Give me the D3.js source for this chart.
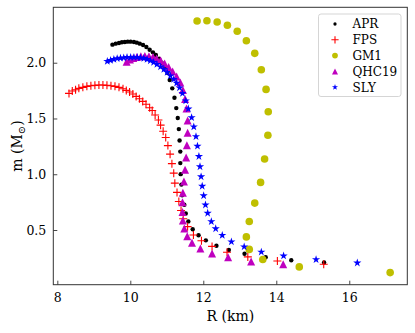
<!DOCTYPE html>
<html>
<head>
<meta charset="utf-8">
<script src="https://cdn.jsdelivr.net/npm/d3@7"></script>
<style>
  body { margin: 0; background: #fff; }
  text { font-family: "DejaVu Serif", serif; fill: #000; }
</style>
</head>
<body>
<div id="wrapper"></div>
<script>
// mass-radius curves (R in km, m in solar masses)
const aprR = [9.51, 9.60, 9.69, 9.77, 9.85, 9.93, 10.01, 10.10, 10.18, 10.26, 10.35, 10.44, 10.53, 10.62, 10.70, 10.79, 10.86, 10.94, 11.02, 11.08, 11.15, 11.21, 11.26, 11.30, 11.33, 11.35, 11.37, 11.37, 11.38, 11.40, 11.42, 11.48, 11.52, 11.59, 11.71, 11.87, 12.07, 12.36, 12.70, 13.13, 13.71, 14.41, 15.31]
const aprM = [2.162, 2.171, 2.177, 2.183, 2.186, 2.189, 2.189, 2.186, 2.180, 2.171, 2.159, 2.141, 2.117, 2.093, 2.069, 2.036, 2.000, 1.959, 1.910, 1.845, 1.770, 1.686, 1.593, 1.504, 1.405, 1.302, 1.203, 1.100, 1.001, 0.907, 0.812, 0.727, 0.648, 0.577, 0.507, 0.453, 0.407, 0.359, 0.321, 0.287, 0.256, 0.229, 0.208]

const fpsR = [8.32, 8.41, 8.50, 8.59, 8.70, 8.81, 8.92, 9.03, 9.14, 9.25, 9.36, 9.47, 9.58, 9.69, 9.80, 9.89, 9.98, 10.07, 10.16, 10.25, 10.34, 10.43, 10.53, 10.60, 10.68, 10.77, 10.83, 10.90, 10.97, 11.03, 11.09, 11.14, 11.19, 11.22, 11.28, 11.33, 11.39, 11.45, 11.57, 11.73, 11.95, 12.24, 12.65, 13.22, 14.03, 15.30]
const fpsM = [1.725, 1.746, 1.758, 1.770, 1.779, 1.788, 1.794, 1.797, 1.800, 1.800, 1.797, 1.794, 1.788, 1.779, 1.767, 1.752, 1.737, 1.719, 1.698, 1.677, 1.653, 1.627, 1.596, 1.571, 1.531, 1.486, 1.440, 1.386, 1.329, 1.257, 1.180, 1.095, 1.010, 0.920, 0.837, 0.756, 0.675, 0.601, 0.530, 0.455, 0.404, 0.353, 0.301, 0.259, 0.222, 0.193]

const gm1R = [11.83, 12.10, 12.38, 12.66, 12.93, 13.18, 13.41, 13.59, 13.72, 13.78, 13.77, 13.68, 13.57, 13.41, 13.26, 13.18, 13.26, 13.63, 14.63, 17.12]
const gm1M = [2.374, 2.377, 2.365, 2.336, 2.282, 2.197, 2.084, 1.937, 1.761, 1.560, 1.349, 1.137, 0.927, 0.741, 0.576, 0.438, 0.326, 0.236, 0.169, 0.118]

const qhcR = [9.90, 9.99, 10.08, 10.18, 10.29, 10.40, 10.51, 10.62, 10.72, 10.83, 10.94, 11.05, 11.16, 11.27, 11.37, 11.44, 11.50, 11.54, 11.57, 11.57, 11.55, 11.53, 11.50, 11.47, 11.44, 11.43, 11.43, 11.44, 11.48, 11.56, 11.69, 11.92, 12.24, 12.68, 13.31, 14.19]
const qhcM = [2.009, 2.029, 2.042, 2.051, 2.058, 2.060, 2.058, 2.051, 2.039, 2.020, 1.993, 1.961, 1.921, 1.876, 1.822, 1.755, 1.674, 1.589, 1.481, 1.372, 1.261, 1.151, 1.041, 0.934, 0.833, 0.748, 0.662, 0.585, 0.513, 0.444, 0.386, 0.335, 0.289, 0.256, 0.218, 0.193]

const slyR = [9.37, 9.46, 9.55, 9.64, 9.73, 9.82, 9.91, 10.01, 10.10, 10.19, 10.28, 10.37, 10.46, 10.55, 10.64, 10.73, 10.83, 10.92, 11.01, 11.10, 11.19, 11.27, 11.35, 11.43, 11.52, 11.59, 11.68, 11.74, 11.80, 11.84, 11.88, 11.91, 11.94, 11.97, 12.01, 12.06, 12.12, 12.22, 12.34, 12.52, 12.77, 13.12, 13.59, 14.20, 15.09, 16.22]
const slyM = [2.013, 2.022, 2.031, 2.038, 2.042, 2.045, 2.048, 2.048, 2.048, 2.048, 2.045, 2.039, 2.031, 2.018, 2.004, 1.986, 1.964, 1.941, 1.914, 1.883, 1.852, 1.818, 1.776, 1.725, 1.658, 1.586, 1.508, 1.425, 1.338, 1.252, 1.160, 1.068, 0.978, 0.893, 0.808, 0.725, 0.651, 0.576, 0.512, 0.452, 0.395, 0.350, 0.303, 0.268, 0.235, 0.205]

const eosNames = ["APR", "FPS", "GM1", "QHC19", "SLY"]
const xTicks = [8, 10, 12, 14, 16]
const yTicks = [0.5, 1.0, 1.5, 2.0]

const width = 415, height = 333
const box = { left: 53.3, right: 407.3, top: 7.3, bottom: 284.7 }

const xScale = d3.scaleLinear().domain([7.89, 17.59]).range([box.left, box.right])
const yScale = d3.scaleLinear().domain([0.0095, 2.497]).range([box.bottom, box.top])

// marker shapes, roughly like matplotlib's '.', '+', 'o', '^', '*'
function starPath(r) {
  const pts = []
  for (let i = 0; i < 10; i++) {
    const rr = i % 2 === 0 ? r : r * 0.38
    const a = -Math.PI / 2 + i * Math.PI / 5
    pts.push([rr * Math.cos(a), rr * Math.sin(a)])
  }
  return "M" + pts.map(p => p.join(",")).join("L") + "Z"
}
const markers = {
  APR:   { color: "#000000", draw: (g, s) => g.append("circle").attr("r", 2.2 * s).attr("fill", "#000") },
  FPS:   { color: "#ff0000", draw: (g, s) => g.append("path").attr("d", `M${-4 * s},0H${4 * s}M0,${-4 * s}V${4 * s}`).attr("stroke", "#ff0000").attr("stroke-width", 1.1).attr("fill", "none") },
  GM1:   { color: "#bfbf00", draw: (g, s) => g.append("circle").attr("r", 3.8 * s).attr("fill", "#bfbf00") },
  QHC19: { color: "#bf00bf", draw: (g, s) => g.append("path").attr("d", `M0,${-4 * s}L${4 * s},${4 * s}L${-4 * s},${4 * s}Z`).attr("fill", "#bf00bf") },
  SLY:   { color: "#0000ff", draw: (g, s) => g.append("path").attr("d", starPath(4.3 * s)).attr("fill", "#0000ff") },
}

const svg = d3.select("#wrapper").append("svg")
  .attr("width", width)
  .attr("height", height)

svg.append("rect").attr("width", width).attr("height", height).attr("fill", "#fff")

const plot = svg.append("g")

const series = [
  { name: "APR", r: aprR, m: aprM },
  { name: "FPS", r: fpsR, m: fpsM },
  { name: "GM1", r: gm1R, m: gm1M },
  { name: "QHC19", r: qhcR, m: qhcM },
  { name: "SLY", r: slyR, m: slyM },
]

series.forEach(s => {
  s.r.forEach((r, i) => {
    const g = plot.append("g").attr("transform", `translate(${xScale(r)},${yScale(s.m[i])})`)
    markers[s.name].draw(g, 1)
  })
})

// axes, ticks pointing inward
const xAxis = svg.append("g")
  .attr("transform", `translate(0,${box.bottom})`)
  .call(d3.axisBottom(xScale).tickValues(xTicks).tickFormat(d3.format("d")).tickSizeInner(-4).tickSizeOuter(0).tickPadding(8))
const yAxis = svg.append("g")
  .attr("transform", `translate(${box.left},0)`)
  .call(d3.axisLeft(yScale).tickValues(yTicks).tickFormat(d3.format(".1f")).tickSizeInner(-4).tickSizeOuter(0).tickPadding(7))
;[xAxis, yAxis].forEach(a => {
  a.select(".domain").remove()
  a.selectAll(".tick line").attr("stroke", "#333").attr("stroke-width", 0.9)
  a.selectAll(".tick text").style("font-family", "DejaVu Serif").style("font-size", "12.5px").attr("fill", "#000")
})

svg.append("rect")
  .attr("x", box.left).attr("y", box.top)
  .attr("width", box.right - box.left).attr("height", box.bottom - box.top)
  .attr("fill", "none").attr("stroke", "#333").attr("stroke-width", 1)

svg.append("text")
  .attr("x", (box.left + box.right) / 2).attr("y", 321)
  .attr("text-anchor", "middle").style("font-size", "14px")
  .text("R (km)")

const yl = svg.append("text")
  .attr("transform", `translate(22,${(box.top + box.bottom) / 2}) rotate(-90)`)
  .attr("text-anchor", "middle").style("font-size", "14px")
yl.append("tspan").text("m (M")
yl.append("tspan").attr("dy", 3).style("font-size", "10px").text("⊙")
yl.append("tspan").attr("dy", -3).text(")")

// legend
const legend = svg.append("g")
legend.append("rect")
  .attr("x", 318.5).attr("y", 14).attr("width", 82.5).attr("height", 82.5)
  .attr("rx", 2.5).attr("fill", "#fff").attr("fill-opacity", 0.8)
  .attr("stroke", "#d0d0d0").attr("stroke-width", 0.9)
eosNames.forEach((name, i) => {
  const y = 24 + i * 15.8
  const g = legend.append("g").attr("transform", `translate(335,${y})`)
  markers[name].draw(g, name === "FPS" ? 0.9 : 0.75)
  legend.append("text").attr("x", 352.5).attr("y", y).attr("dy", "0.36em")
    .style("font-size", "12px").text(name)
})
</script>
</body>
</html>
